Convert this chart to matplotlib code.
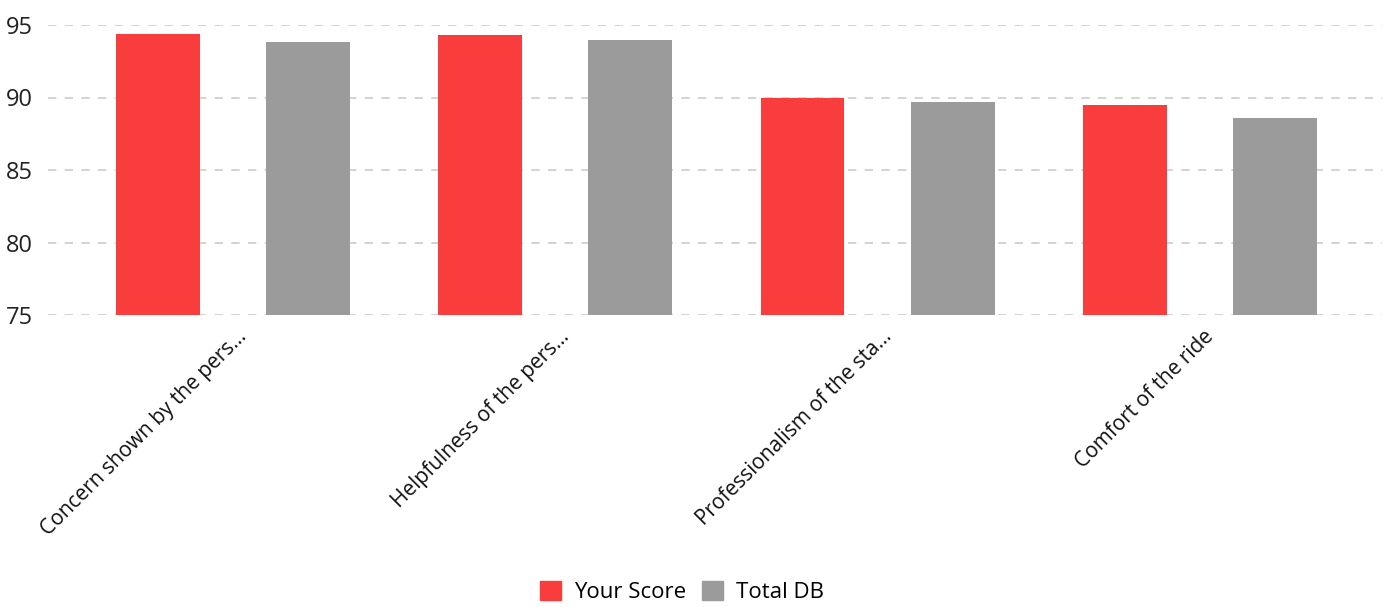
import matplotlib
matplotlib.use("Agg")
import matplotlib.pyplot as plt
import numpy as np
from matplotlib.patches import Patch

categories = ["Concern shown by the pers…", "Helpfulness of the pers…",
              "Professionalism of the sta…", "Comfort of the ride"]
your_score = [94.38, 94.31, 89.97, 89.48]
total_db = [93.83, 93.97, 89.69, 88.59]
series_names = ["Your Score", "Total DB"]
colors = ["#f93c3c", "#9b9b9b"]
yticks = [75, 80, 85, 90, 95]

plt.rcParams['font.family'] = ['Open Sans', 'DejaVu Sans']

fig = plt.figure(figsize=(13.89, 6.07), dpi=100)
ax = fig.add_axes([48/1389, 1-315/607, (1382-48)/1389, 290/607])

x = np.arange(len(categories))
w = 0.26
off = 0.233
ax.bar(x - off, np.array(your_score) - 75, bottom=75, width=w, color=colors[0], zorder=2)
ax.bar(x + off, np.array(total_db) - 75, bottom=75, width=w, color=colors[1], zorder=2)

ax.set_ylim(75, 95)
ax.set_xlim(-0.574, 3.565)
ax.set_yticks(yticks)
ax.set_yticklabels([str(t) for t in yticks], fontsize=17, color="#222222")
ax.yaxis.grid(True, linestyle=(0, (5, 5)), color="#cccccc", linewidth=1.2, zorder=0)
ax.set_axisbelow(True)
for s in ax.spines.values():
    s.set_visible(False)
ax.tick_params(axis='y', length=0, pad=11)
ax.tick_params(axis='x', length=0, pad=8)
ax.set_xticks(x + 0.01)
ax.set_xticklabels(categories, rotation=45, ha='right', rotation_mode='anchor',
                   fontsize=15, color="#111111")

handles = [Patch(color=c, label=n) for c, n in zip(colors, series_names)]
fig.legend(handles=handles, loc='center', bbox_to_anchor=(682/1389, 1-592/607),
           ncol=2, frameon=False, fontsize=16, handlelength=0.95, handleheight=0.95,
           handletextpad=0.6, columnspacing=0.7)

fig.savefig("out.png", dpi=100)
